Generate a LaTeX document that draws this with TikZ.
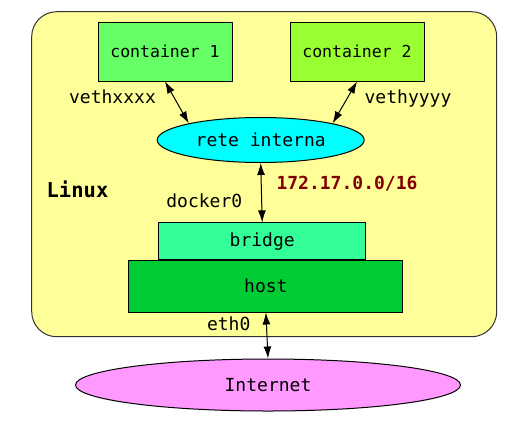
\documentclass[tikz,border=0pt]{standalone}
\usepackage{fontspec}
\setmainfont{DejaVu Sans Mono}
\usetikzlibrary{arrows.meta,shapes.geometric}
\definecolor{linuxbg}{HTML}{FFFF99}
\definecolor{contone}{HTML}{66FF66}
\definecolor{conttwo}{HTML}{99FF33}
\definecolor{retebg}{HTML}{00FFFF}
\definecolor{bridgebg}{HTML}{33FF99}
\definecolor{hostbg}{HTML}{00CC33}
\definecolor{inetbg}{HTML}{FF99FF}
\definecolor{netred}{HTML}{800000}
\begin{document}
\begin{tikzpicture}[x=1pt, y=-1pt, line width=1pt, font=\fontsize{18}{21}\selectfont,
        box/.style={draw, rectangle, inner sep=0pt},
        blob/.style={draw, ellipse, inner sep=0pt},
        link/.style={{Latex[length=12pt,width=8pt]}-{Latex[length=12pt,width=8pt]}, line width=1pt},
        lbl/.style={anchor=base}]
    \useasboundingbox (0,0) rectangle (527,421);
    \node[box, draw=black!80, fill=linuxbg, rounded corners=25pt, minimum width=465pt, minimum height=325pt] (linux) at (264.2,174.2) {};
    \node[box, fill=contone, minimum width=134pt, minimum height=59pt, font=\fontsize{16.5}{19}\selectfont] (c1) at (165,51.5) {container 1};
    \node[box, fill=conttwo, minimum width=134pt, minimum height=59pt, font=\fontsize{16.5}{19}\selectfont] (c2) at (357,51.5) {container 2};
    \node[blob, fill=retebg, minimum width=207pt, minimum height=45pt] (rete) at (260.7,140) {rete interna};
    \node[box, fill=bridgebg, minimum width=207pt, minimum height=37pt] (bridge) at (262.2,241.4) {bridge};
    \node[box, fill=hostbg, minimum width=274pt, minimum height=52pt] (host) at (265.9,286) {host};
    \node[blob, fill=inetbg, minimum width=385pt, minimum height=52pt] (inet) at (268,385) {Internet};
    % etichette
    \node[lbl] (vx) at (112.5,103) {vethxxxx};
    \node[lbl] (vy) at (408,103) {vethyyyy};
    \node[lbl, font=\fontsize{20.5}{23}\selectfont\bfseries] (os) at (77.5,197.7) {Linux};
    \node[lbl] (dk) at (204.3,207.7) {docker0};
    \node[lbl, text=netred, font=\fontsize{18}{21}\selectfont\bfseries] (net) at (347,189) {172.17.0.0/16};
    \node[lbl] (eth) at (228.7,330) {eth0};
    % collegamenti
    \draw[link] (c1.south) -- (rete.167);
    \draw[link] (c2.south) -- (rete.13);
    \draw[link] (rete.south) -- (bridge.north);
    \draw[link] (host.south) -- (inet.north);
\end{tikzpicture}
\end{document}
